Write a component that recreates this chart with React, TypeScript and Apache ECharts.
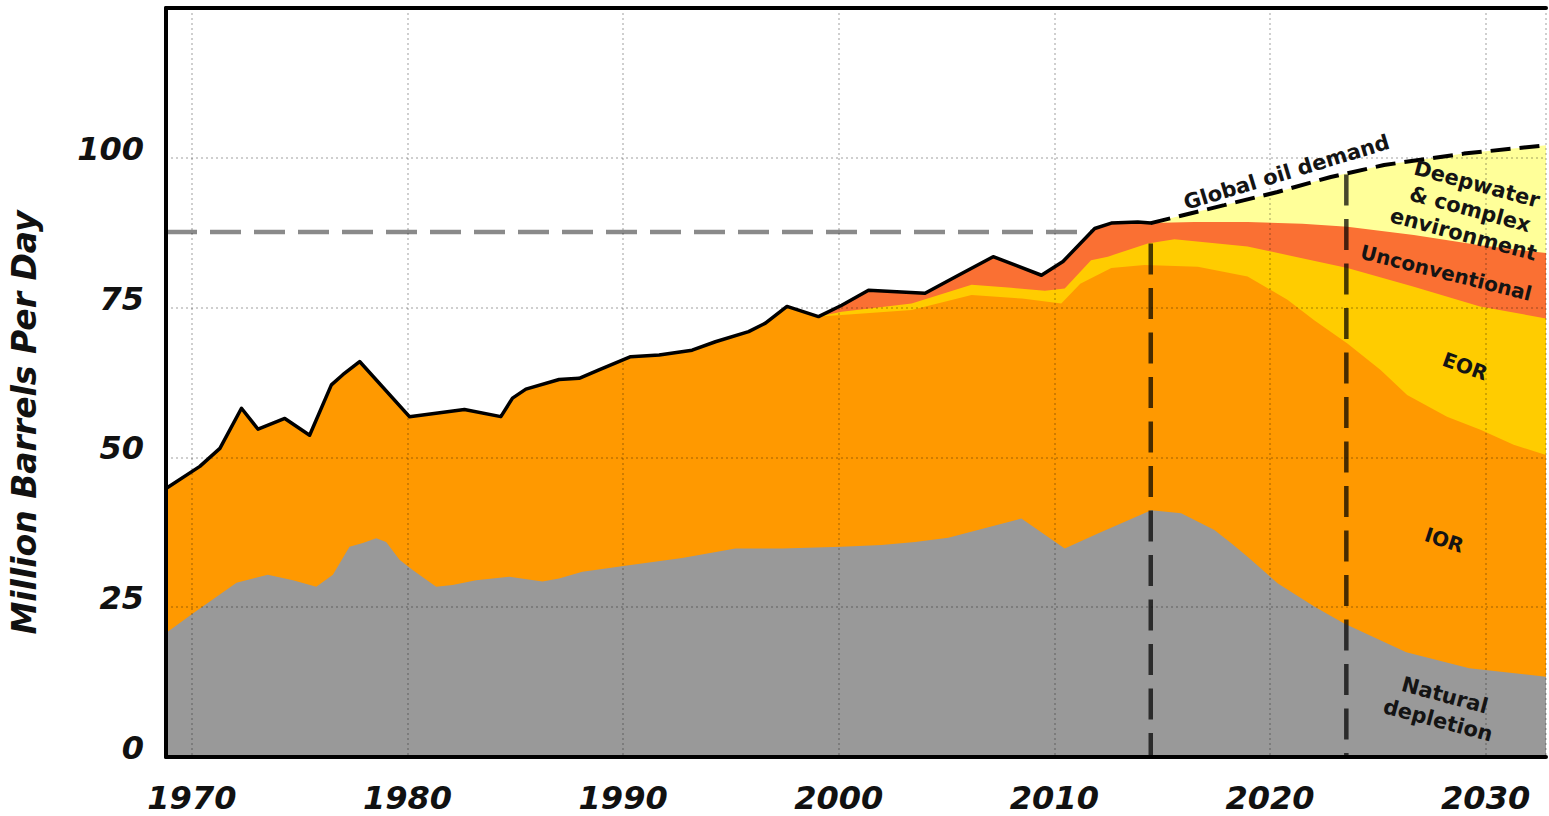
import React, { useEffect, useRef } from 'react';
import * as echarts from 'echarts';

// ---- axes ----
const X_MIN = 1968.8;
const X_MAX = 2032.8;
const Y_MIN = 0;
const Y_MAX = 125;
const Y_STEP = 25;
const Y_TICK_LABELS = ['0', '25', '50', '75', '100'];
const Y_TITLE = 'Million Barrels Per Day';

// ---- historical total supply (black line) ----
const totalYears = [1968.8, 1970.37, 1971.3, 1972.3, 1973.07, 1974.31, 1975.46, 1976.47, 1977.0, 1977.78, 1980.09, 1982.64, 1984.33, 1984.87, 1985.49, 1987.03, 1987.96, 1988.88, 1990.35, 1991.67, 1993.2, 1994.28, 1995.82, 1996.6, 1997.6, 1999.06, 2000.14, 2001.38, 2004.0, 2005.55, 2007.16, 2009.4, 2010.4, 2011.87, 2012.64, 2013.87, 2014.47];
const totalSupply = [44.8, 48.5, 51.5, 58.2, 54.7, 56.5, 53.7, 62.1, 63.8, 66.0, 56.8, 58.0, 56.8, 59.9, 61.4, 63.0, 63.2, 64.6, 66.8, 67.1, 67.9, 69.3, 71.0, 72.4, 75.2, 73.5, 75.4, 77.9, 77.4, 80.4, 83.5, 80.4, 82.7, 88.2, 89.1, 89.3, 89.1];

// ---- global oil demand (dashed) ----
const demandYears = [2014.47, 2017.88, 2020.35, 2022.82, 2025.29, 2028.99, 2032.8];
const demandValues = [89.1, 92.1, 94.3, 96.8, 98.8, 100.7, 102.1];

// ---- layer upper boundaries ----
const unconvYears = [2014.47, 2016.5, 2018.96, 2021.5, 2023.59, 2026.67, 2029.74, 2032.8];
const unconvTop = [89.1, 89.3, 89.3, 89.0, 88.5, 87.1, 85.4, 84.1];

const eorYears = [1999.06, 2000.14, 2003.38, 2006.16, 2008.0, 2009.56, 2010.48, 2011.7, 2012.48, 2014.33, 2015.57, 2018.96, 2023.59, 2026.67, 2029.74, 2032.8];
const eorTop = [73.5, 74.3, 75.7, 78.8, 78.3, 77.8, 78.2, 82.9, 83.5, 85.7, 86.4, 85.2, 81.6, 78.5, 75.2, 73.2];

const iorYears = [1999.06, 2000.3, 2003.38, 2006.16, 2008.5, 2010.32, 2011.2, 2012.64, 2014.18, 2016.65, 2018.96, 2020.81, 2022.05, 2023.59, 2025.13, 2026.36, 2028.21, 2029.76, 2031.3, 2032.8];
const iorTop = [73.5, 73.8, 74.6, 77.1, 76.5, 75.7, 79.0, 81.6, 82.1, 81.8, 80.2, 76.3, 72.9, 69.0, 64.6, 60.4, 56.8, 54.6, 52.1, 50.4];

const naturalYears = [1968.8, 1970.06, 1972.07, 1973.52, 1974.69, 1975.77, 1976.54, 1977.31, 1977.93, 1978.55, 1979.01, 1979.63, 1980.24, 1981.33, 1982.09, 1983.18, 1984.72, 1986.26, 1987.03, 1988.11, 1990.27, 1992.74, 1995.21, 1997.37, 2000.14, 2001.99, 2003.54, 2005.08, 2008.47, 2010.48, 2012.02, 2014.49, 2015.88, 2017.42, 2018.19, 2018.96, 2020.35, 2022.05, 2023.44, 2026.32, 2029.24, 2032.8];
const naturalTop = [20.7, 24.0, 29.1, 30.4, 29.5, 28.4, 30.4, 35.1, 35.7, 36.5, 35.9, 32.9, 31.2, 28.4, 28.7, 29.5, 30.1, 29.3, 29.8, 30.9, 32.0, 33.2, 34.8, 34.8, 35.1, 35.4, 35.9, 36.6, 39.8, 34.8, 37.3, 41.2, 40.7, 37.9, 35.7, 33.4, 29.0, 25.1, 22.3, 17.5, 14.8, 13.4];

// ---- reference lines ----
const plateauValue = 87.6;
const plateauEnd = 2014.47;
const markerYears = [2014.47, 2023.54];
const markerTops = [85.7, 97.2];

// ---- annotations ----
const annotationTexts = ['Global oil demand', 'Deepwater\n& complex\nenvironment', 'Unconventional', 'EOR', 'IOR', 'Natural\ndepletion'];
const annotationYears = [2020.77, 2029.28, 2028.17, 2029.05, 2028.08, 2027.95];
const annotationValues = [97.55, 91.4, 80.8, 65.2, 36.2, 8.2];
const annotationAngles = [16.8, -15, -14, -20, -18, -15];

const FONT = '"DejaVu Sans", Verdana, sans-serif';

const pairs = (xs: number[], ys: number[]) => xs.map((x, i) => [x, ys[i]]);

export default function App() {
  const ref = useRef<HTMLDivElement>(null);

  useEffect(() => {
    const chart = echarts.init(ref.current!, null, { renderer: 'svg' });

    const total = pairs(totalYears, totalSupply);
    const lastHist = totalYears[totalYears.length - 1];
    const histUntil = (yr: number) => total.filter((p) => p[0] <= yr);

    const unconvArea = [...total, ...pairs(unconvYears, unconvTop).filter((p) => p[0] > lastHist)];
    const eorArea = [...histUntil(eorYears[0]), ...pairs(eorYears, eorTop).filter((p) => p[0] > eorYears[0])];
    const iorArea = [...histUntil(iorYears[0]), ...pairs(iorYears, iorTop).filter((p) => p[0] > iorYears[0])];

    const area = (name: string, data: number[][], color: string) => ({
      type: 'line',
      name,
      data,
      symbol: 'none',
      silent: true,
      z: 2,
      lineStyle: { width: 0, opacity: 0 },
      areaStyle: { color, opacity: 1 },
    });

    const markerSeries = markerYears.map((yr, i) => ({
      type: 'line',
      name: 'marker' + i,
      data: [
        [yr, markerTops[i]],
        [yr, Y_MIN],
      ],
      symbol: 'none',
      silent: true,
      z: 3,
      lineStyle: { color: 'rgba(0,0,0,0.72)', width: 4.5, type: [31, 13.5] },
    }));

    const option: any = {
      animation: false,
      grid: { left: 166, right: 0, top: 8, bottom: 59, containLabel: false },
      xAxis: [
        {
          type: 'value',
          min: X_MIN,
          max: X_MAX,
          z: 5,
          axisLine: { show: true, onZero: false, lineStyle: { color: '#000', width: 4 } },
          axisTick: { show: false },
          axisLabel: {
            margin: 25,
            color: '#111',
            fontSize: 32,
            fontWeight: 'bold',
            fontStyle: 'italic',
            fontFamily: FONT,
            formatter: (v: number) => (Math.abs(v % 10) < 1e-6 ? String(Math.round(v)) : ''),
          },
          splitLine: { show: true, lineStyle: { color: 'rgba(0,0,0,0.25)', width: 1.5, type: [2, 3] } },
        },
        {
          type: 'value',
          position: 'top',
          min: X_MIN,
          max: X_MAX,
          z: 5,
          axisLine: { show: true, onZero: false, lineStyle: { color: '#000', width: 4 } },
          axisTick: { show: false },
          axisLabel: { show: false },
          splitLine: { show: false },
        },
      ],
      yAxis: {
        type: 'value',
        min: Y_MIN,
        max: Y_MAX,
        interval: Y_STEP,
        z: 5,
        name: Y_TITLE,
        nameLocation: 'middle',
        nameRotate: 90,
        nameGap: 125,
        nameTextStyle: {
          color: '#111',
          fontSize: 33,
          fontWeight: 'bold',
          fontStyle: 'italic',
          fontFamily: FONT,
          padding: [0, 80, 0, 0],
        },
        axisLine: { show: true, lineStyle: { color: '#000', width: 4 } },
        axisTick: { show: false },
        axisLabel: {
          margin: 22,
          color: '#111',
          fontSize: 32,
          fontWeight: 'bold',
          fontStyle: 'italic',
          fontFamily: FONT,
          verticalAlign: 'bottom',
          lineHeight: 18,
          formatter: (v: number) => {
            const idx = Math.round(v / Y_STEP);
            return Math.abs(v - idx * Y_STEP) < 1e-6 && idx < Y_TICK_LABELS.length ? Y_TICK_LABELS[idx] : '';
          },
        },
        splitLine: { show: true, lineStyle: { color: 'rgba(0,0,0,0.25)', width: 1.5, type: [2, 3] } },
      },
      series: [
        {
          type: 'line',
          name: 'plateau',
          data: [
            [X_MIN, plateauValue],
            [plateauEnd, plateauValue],
          ],
          symbol: 'none',
          silent: true,
          z: 1,
          lineStyle: { color: '#8a8a8a', width: 4.5, type: [31, 13] },
        },
        area('Deepwater & complex environment', pairs(demandYears, demandValues), '#FFFF99'),
        area('Unconventional', unconvArea, '#FA7033'),
        area('EOR', eorArea, '#FFCC00'),
        area('IOR', iorArea, '#FF9900'),
        area('Natural depletion', pairs(naturalYears, naturalTop), '#999999'),
        {
          type: 'line',
          name: 'Total supply',
          data: total,
          symbol: 'none',
          silent: true,
          z: 3,
          lineStyle: { color: '#000', width: 3.5, join: 'round', cap: 'round' },
        },
        {
          type: 'line',
          name: 'Global oil demand',
          data: pairs(demandYears, demandValues),
          symbol: 'none',
          silent: true,
          z: 3,
          lineStyle: { color: '#000', width: 4, type: [20, 9] },
        },
        ...markerSeries,
      ],
    };

    chart.setOption(option);

    const graphics = annotationTexts.map((text, i) => {
      const p = chart.convertToPixel({ seriesIndex: 0 }, [annotationYears[i], annotationValues[i]]) as number[];
      return {
        type: 'text',
        x: p[0],
        y: p[1],
        rotation: (annotationAngles[i] * Math.PI) / 180,
        z: 10,
        silent: true,
        style: {
          text,
          align: 'center',
          verticalAlign: 'middle',
          fontSize: i === 2 || i === 3 || i === 4 ? 20 : 21,
          fontWeight: 'bold',
          fontFamily: FONT,
          lineHeight: 26,
          fill: '#141414',
        },
      };
    });
    chart.setOption({ graphic: graphics });

    return () => {
      chart.dispose();
    };
  }, []);

  return (
    <div
      ref={ref}
      style={{ position: 'absolute', left: 0, top: 0, width: 1549, height: 816, background: '#fff' }}
    />
  );
}
